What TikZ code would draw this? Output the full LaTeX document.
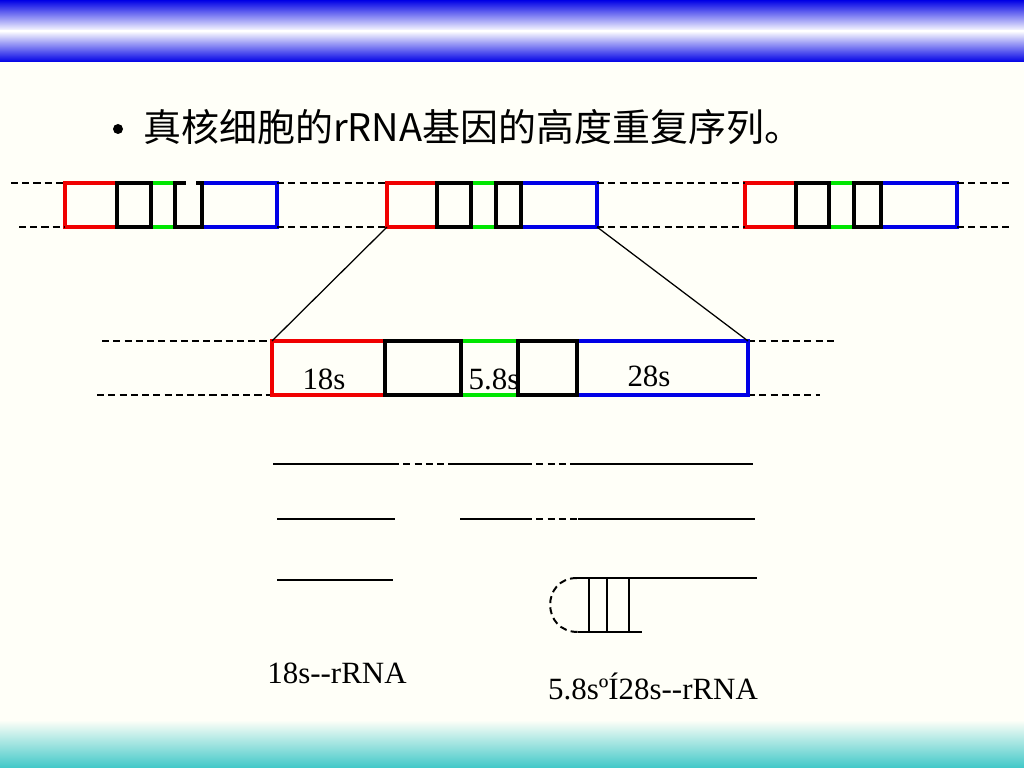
\documentclass[tikz,border=0pt]{standalone}
\usepackage{fontspec}
\setmainfont{Liberation Serif}
\newfontfamily\cjk{Noto Sans CJK SC}

\definecolor{paper}{RGB}{255,255,248}
\definecolor{bannerblue}{RGB}{0,0,230}
\definecolor{footteal}{RGB}{64,200,200}
\definecolor{rred}{RGB}{240,0,0}
\definecolor{rgreen}{RGB}{0,230,0}
\definecolor{rblue}{RGB}{0,0,230}

\begin{document}
\begin{tikzpicture}[x=0.025cm,y=-0.025cm,
    gap/.style={dash pattern=on 5pt off 3pt},
    flank/.style={line width=1.2pt,gap},
    gene/.style={line width=2.2pt},
    strand/.style={line width=1.4pt},
    lbl/.style={font=\fontsize{22}{24}\selectfont,inner sep=0pt}]
\fill[paper] (0,0) rectangle (1024,768);
\useasboundingbox (0,0) rectangle (1024,768);
% banner and footer
\shade[top color=bannerblue,bottom color=white] (0,0) rectangle (1024,31);
\shade[top color=white,bottom color=bannerblue] (0,31) rectangle (1024,62);
\shade[top color=paper,bottom color=footteal] (0,720) rectangle (1024,768);

% title
\fill (118,129) circle (5);
\node[anchor=west,inner sep=0pt,font=\cjk\fontsize{27}{30}\selectfont] (title) at (143,127) {真核细胞的rRNA基因的高度重复序列。};

% repeated units
\foreach \a/\b/\c/\d/\e/\f in {65/117/151/175/202/277, 387/437/471/496/521/597, 745/796/829/854/881/957}{
    \draw[gene,rred] (\a,183) rectangle (\b,227);
    \draw[gene,rblue] (\e,183) rectangle (\f,227);
    \draw[gene,rgreen] (\c,183) -- (\d,183) (\c,227) -- (\d,227);
    \draw[gene] (\b,183) rectangle (\c,227) (\d,183) rectangle (\e,227);
}
\draw[gene,paper] (186,183) -- (196,183);
\foreach \y/\s in {183/11,227/19}{
    \draw[flank] (\s,\y) -- (65,\y) (277,\y) -- (387,\y) (597,\y) -- (745,\y) (957,\y) -- (1012,\y);
}
\coordinate (u2l) at (387,227);
\coordinate (u2r) at (597,227);

% enlarged unit
\draw[flank] (102,341) -- (272,341) (97,395) -- (272,395) (748,341) -- (835,341) (748,395) -- (820,395);
\draw[gene,rred] (272,341) rectangle (385,395);
\draw[gene,rblue] (577,341) rectangle (748,395);
\draw[gene,rgreen] (461,341) -- (518,341) (461,395) -- (518,395);
\draw[gene] (385,341) rectangle (461,395) (518,341) rectangle (577,395);
\coordinate (m18l) at (272,341);
\coordinate (m28r) at (748,341);
\draw[line width=0.9pt] (u2l) -- (m18l) (u2r) -- (m28r);
\node[lbl] (l18) at (324,379) {18s};
\node[lbl] (l58) at (494,379) {5.8s};
\node[lbl] (l28) at (649,376) {28s};

% processing
\draw[strand] (273,464) -- (392,464) (455,464) -- (525,464) (577,464) -- (753,464);
\draw[strand,gap] (392,464) -- (455,464) (525,464) -- (577,464);
\draw[strand] (277,519) -- (395,519) (460,519) -- (525,519) (578,519) -- (755,519);
\draw[strand,gap] (525,519) -- (577,519);
\draw[strand] (277,580) -- (393,580);
\draw[strand] (577,578) -- (757,578) (578,632) -- (642,632);
\foreach \x in {589,607,629}
    \draw[strand] (\x,578) -- (\x,632);
\draw[strand,gap] (577,578) .. controls (541,578) and (541,632) .. (578,632);

\node[lbl] (r18) at (337,673) {18s-{}-rRNA};
\node[lbl] (r28) at (653,686) {5.8sºÍ28s-{}-rRNA};
\end{tikzpicture}
\end{document}
